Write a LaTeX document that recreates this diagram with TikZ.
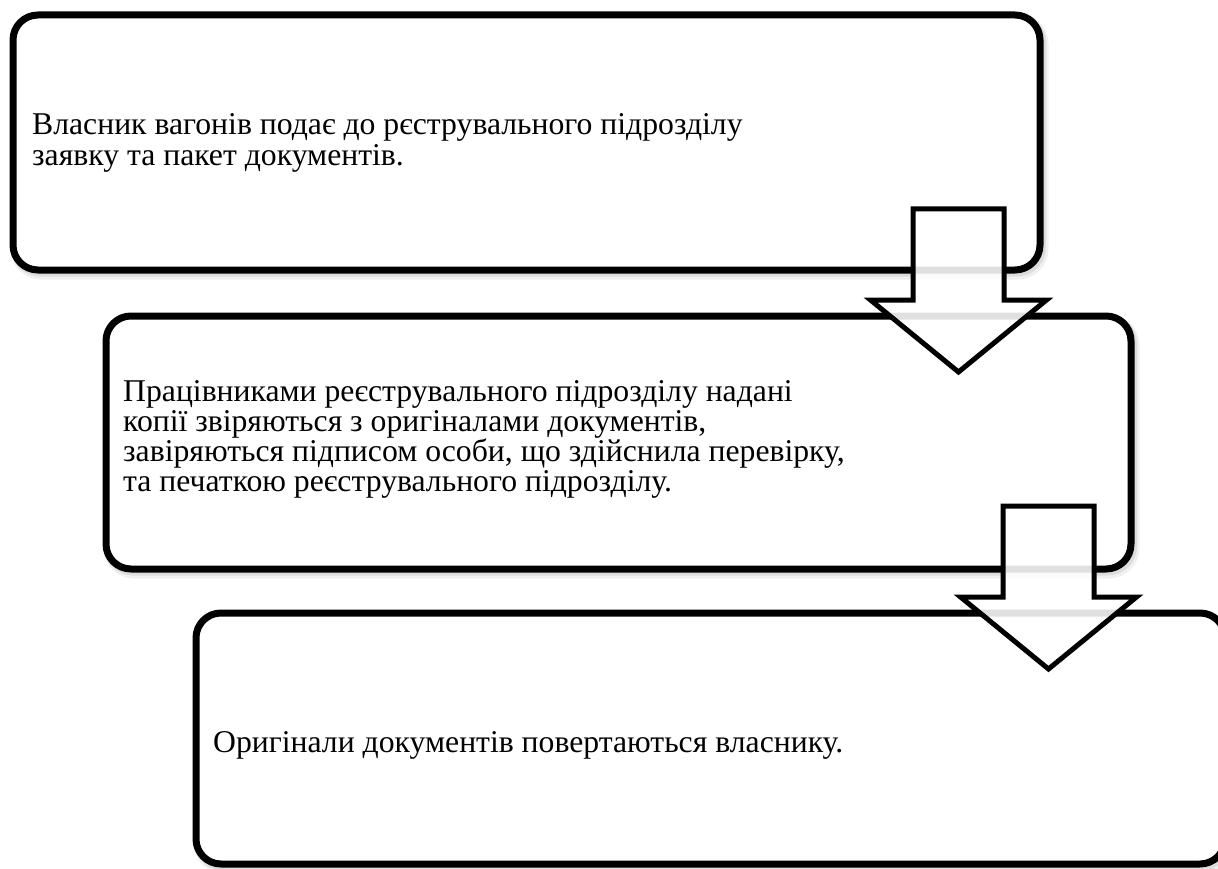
\documentclass[tikz,border=0pt]{standalone}
\usepackage{fontspec}
\setmainfont{Liberation Serif}
\tikzset{
  stagebox/.style={draw=black, line width=7pt, fill=white, rounded corners=25pt,
    inner sep=0pt,
    preaction={draw=black, draw opacity=0.06, line width=11pt, fill=none,
      transform canvas={shift={(3,4)}}},
    preaction={draw=black, draw opacity=0.08, line width=8pt, fill=none,
      transform canvas={shift={(2,2.5)}}}},
  stagetext/.style={anchor=base west, inner sep=0pt, align=left},
  blockarrow/.style={draw=black, line width=5pt, fill=white, fill opacity=0.88,
    line join=miter}
}
\begin{document}
\begin{tikzpicture}[x=1pt, y=-1pt]
  \useasboundingbox (0,0) rectangle (1218,869);
  \clip (0,0) rectangle (1218,869);

  % three process stages
  \node[stagebox, minimum width=1027pt, minimum height=255pt] (s1) at (526.5,142.5) {};
  \node[stagebox, minimum width=1025pt, minimum height=253pt] (s2) at (618.5,442.5) {};
  \node[stagebox, minimum width=1029pt, minimum height=251pt] (s3) at (710.5,738.5) {};

  % texts, anchored at the baseline of their last line
  \node[stagetext, font=\fontsize{31.7}{31}\selectfont] (t1) at (32,166)
    {Власник вагонів подає до рєструвального підрозділу\\заявку та пакет документів.};
  \node[stagetext, font=\fontsize{31.7}{29.3}\selectfont] (t2) at (123,491)
    {Працівниками реєструвального підрозділу надані\\копії звіряються з оригіналами документів,\\завіряються підписом особи, що здійснила перевірку,\\та печаткою реєструвального підрозділу.};
  \node[stagetext, font=\fontsize{31.7}{32}\selectfont] (t3) at (213,752)
    {Оригінали документів повертаються власнику.};

  % block arrows between the stages
  \coordinate (a1) at (958.5,209);
  \coordinate (a2) at (1048.5,506);
  \foreach \a in {a1,a2}{
    \draw[blockarrow, shift={(\a)}]
      (-45.5,0) -- (45.5,0) -- (45.5,91) -- (88,91) -- (0,163)
      -- (-88,91) -- (-45.5,91) -- cycle;
  }
\end{tikzpicture}
\end{document}
